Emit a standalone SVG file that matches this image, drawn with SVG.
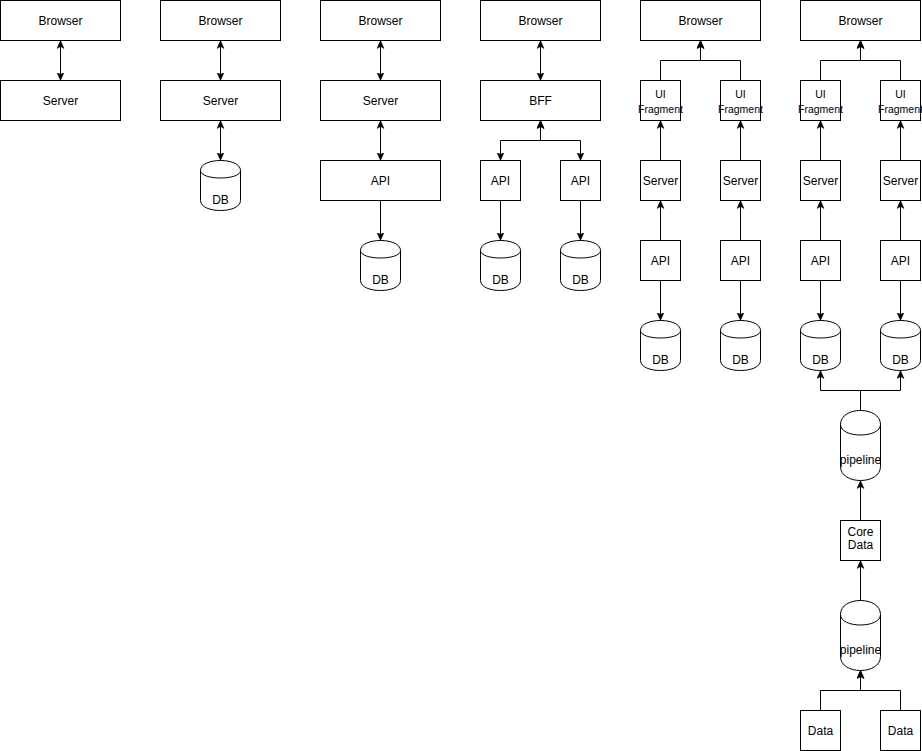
<svg xmlns="http://www.w3.org/2000/svg" width="922" height="751" viewBox="0 0 922 751">
<style>
.box{fill:#fff;stroke:#000;stroke-width:1}
.cyl{fill:#fff;stroke:#000;stroke-width:1}
.lid{fill:none;stroke:#000;stroke-width:1}
.t{font-family:"Liberation Sans",Arial,sans-serif;font-size:12px;fill:#000;text-anchor:middle}
.s{font-size:10.5px}
.e{fill:none;stroke:#000;stroke-width:1}
.a{marker-end:url(#arr)}
.d{marker-start:url(#arr);marker-end:url(#arr)}
</style>
<defs>
<marker id="arr" markerUnits="userSpaceOnUse" viewBox="-8 -4 8 8" refX="0" refY="0" markerWidth="8" markerHeight="8" orient="auto-start-reverse">
<path d="M0,0 L-8,-3.5 L-6,0 L-8,3.5 Z" fill="#000" stroke="#000" stroke-width="0.5"/>
</marker>
</defs>
<rect width="922" height="751" fill="#fff"/>
<g transform="translate(0.5,0.5)">
<g id="connectors">
<path class="e d" d="M60,40 V80"/>
<path class="e d" d="M220,40 V80"/>
<path class="e d" d="M220,120 V160"/>
<path class="e d" d="M380,40 V80"/>
<path class="e d" d="M380,120 V160"/>
<path class="e a" d="M380,200 V240"/>
<path class="e d" d="M540,40 V80"/>
<path class="e d" d="M540,120 V140 H500 V160"/>
<path class="e d" d="M540,120 V140 H580 V160"/>
<path class="e a" d="M500,200 V240"/>
<path class="e a" d="M580,200 V240"/>
<path class="e a" d="M660,80 V60 H700 V40"/>
<path class="e a" d="M740,80 V60 H700 V40"/>
<path class="e a" d="M660,160 V120"/>
<path class="e a" d="M740,160 V120"/>
<path class="e a" d="M660,240 V200"/>
<path class="e a" d="M740,240 V200"/>
<path class="e a" d="M660,280 V320"/>
<path class="e a" d="M740,280 V320"/>
<path class="e a" d="M820,80 V60 H860 V40"/>
<path class="e a" d="M900,80 V60 H860 V40"/>
<path class="e a" d="M820,160 V120"/>
<path class="e a" d="M900,160 V120"/>
<path class="e a" d="M820,240 V200"/>
<path class="e a" d="M900,240 V200"/>
<path class="e a" d="M820,280 V320"/>
<path class="e a" d="M900,280 V320"/>
<path class="e a" d="M860,410 V390 H820 V370"/>
<path class="e a" d="M860,410 V390 H900 V370"/>
<path class="e a" d="M860,520 V480"/>
<path class="e a" d="M860,600 V560"/>
<path class="e a" d="M820,710 V690 H860 V670"/>
<path class="e a" d="M900,710 V690 H860 V670"/>
</g>
<!-- Column 1 -->
<g id="c1-browser"><rect class="box" x="0" y="0" width="120" height="40"/><text class="t" x="60" y="24.5">Browser</text></g>
<g id="c1-server"><rect class="box" x="0" y="80" width="120" height="40"/><text class="t" x="60" y="104.5">Server</text></g>
<!-- Column 2 -->
<g id="c2-browser"><rect class="box" x="160" y="0" width="120" height="40"/><text class="t" x="220" y="24.5">Browser</text></g>
<g id="c2-server"><rect class="box" x="160" y="80" width="120" height="40"/><text class="t" x="220" y="104.5">Server</text></g>
<g id="c2-db"><path class="cyl" d="M200,170 C200,156.67 240,156.67 240,170 L240,200 C240,213.33 200,213.33 200,200 Z"/><path class="lid" d="M200,170 C200,180 240,180 240,170"/><text class="t" x="220" y="203.5">DB</text></g>
<!-- Column 3 -->
<g id="c3-browser"><rect class="box" x="320" y="0" width="120" height="40"/><text class="t" x="380" y="24.5">Browser</text></g>
<g id="c3-server"><rect class="box" x="320" y="80" width="120" height="40"/><text class="t" x="380" y="104.5">Server</text></g>
<g id="c3-api"><rect class="box" x="320" y="160" width="120" height="40"/><text class="t" x="380" y="184.5">API</text></g>
<g id="c3-db"><path class="cyl" d="M360,250 C360,236.67 400,236.67 400,250 L400,280 C400,293.33 360,293.33 360,280 Z"/><path class="lid" d="M360,250 C360,260 400,260 400,250"/><text class="t" x="380" y="283.5">DB</text></g>
<!-- Column 4 -->
<g id="c4-browser"><rect class="box" x="480" y="0" width="120" height="40"/><text class="t" x="540" y="24.5">Browser</text></g>
<g id="c4-bff"><rect class="box" x="480" y="80" width="120" height="40"/><text class="t" x="540" y="104.5">BFF</text></g>
<g id="c4-api1"><rect class="box" x="480" y="160" width="40" height="40"/><text class="t" x="500" y="184.5">API</text></g>
<g id="c4-api2"><rect class="box" x="560" y="160" width="40" height="40"/><text class="t" x="580" y="184.5">API</text></g>
<g id="c4-db1"><path class="cyl" d="M480,250 C480,236.67 520,236.67 520,250 L520,280 C520,293.33 480,293.33 480,280 Z"/><path class="lid" d="M480,250 C480,260 520,260 520,250"/><text class="t" x="500" y="283.5">DB</text></g>
<g id="c4-db2"><path class="cyl" d="M560,250 C560,236.67 600,236.67 600,250 L600,280 C600,293.33 560,293.33 560,280 Z"/><path class="lid" d="M560,250 C560,260 600,260 600,250"/><text class="t" x="580" y="283.5">DB</text></g>
<!-- Column 5 -->
<g id="c5-browser"><rect class="box" x="640" y="0" width="120" height="40"/><text class="t" x="700" y="24.5">Browser</text></g>
<g id="c5-ui1"><rect class="box" x="640" y="80" width="40" height="40"/><text class="t s" x="660" y="97">UI</text><text class="t s" x="660" y="112">Fragment</text></g>
<g id="c5-ui2"><rect class="box" x="720" y="80" width="40" height="40"/><text class="t s" x="740" y="97">UI</text><text class="t s" x="740" y="112">Fragment</text></g>
<g id="c5-server1"><rect class="box" x="640" y="160" width="40" height="40"/><text class="t" x="660" y="184.5">Server</text></g>
<g id="c5-server2"><rect class="box" x="720" y="160" width="40" height="40"/><text class="t" x="740" y="184.5">Server</text></g>
<g id="c5-api1"><rect class="box" x="640" y="240" width="40" height="40"/><text class="t" x="660" y="264.5">API</text></g>
<g id="c5-api2"><rect class="box" x="720" y="240" width="40" height="40"/><text class="t" x="740" y="264.5">API</text></g>
<g id="c5-db1"><path class="cyl" d="M640,330 C640,316.67 680,316.67 680,330 L680,360 C680,373.33 640,373.33 640,360 Z"/><path class="lid" d="M640,330 C640,340 680,340 680,330"/><text class="t" x="660" y="363.5">DB</text></g>
<g id="c5-db2"><path class="cyl" d="M720,330 C720,316.67 760,316.67 760,330 L760,360 C760,373.33 720,373.33 720,360 Z"/><path class="lid" d="M720,330 C720,340 760,340 760,330"/><text class="t" x="740" y="363.5">DB</text></g>
<!-- Column 6 -->
<g id="c6-browser"><rect class="box" x="800" y="0" width="120" height="40"/><text class="t" x="860" y="24.5">Browser</text></g>
<g id="c6-ui1"><rect class="box" x="800" y="80" width="40" height="40"/><text class="t s" x="820" y="97">UI</text><text class="t s" x="820" y="112">Fragment</text></g>
<g id="c6-ui2"><rect class="box" x="880" y="80" width="40" height="40"/><text class="t s" x="900" y="97">UI</text><text class="t s" x="900" y="112">Fragment</text></g>
<g id="c6-server1"><rect class="box" x="800" y="160" width="40" height="40"/><text class="t" x="820" y="184.5">Server</text></g>
<g id="c6-server2"><rect class="box" x="880" y="160" width="40" height="40"/><text class="t" x="900" y="184.5">Server</text></g>
<g id="c6-api1"><rect class="box" x="800" y="240" width="40" height="40"/><text class="t" x="820" y="264.5">API</text></g>
<g id="c6-api2"><rect class="box" x="880" y="240" width="40" height="40"/><text class="t" x="900" y="264.5">API</text></g>
<g id="c6-db1"><path class="cyl" d="M800,330 C800,316.67 840,316.67 840,330 L840,360 C840,373.33 800,373.33 800,360 Z"/><path class="lid" d="M800,330 C800,340 840,340 840,330"/><text class="t" x="820" y="363.5">DB</text></g>
<g id="c6-db2"><path class="cyl" d="M880,330 C880,316.67 920,316.67 920,330 L920,360 C920,373.33 880,373.33 880,360 Z"/><path class="lid" d="M880,330 C880,340 920,340 920,330"/><text class="t" x="900" y="363.5">DB</text></g>
<g id="c6-pipeline1"><path class="cyl" d="M840,424 C840,405.33 880,405.33 880,424 L880,466 C880,484.67 840,484.67 840,466 Z"/><path class="lid" d="M840,424 C840,438 880,438 880,424"/><text class="t" x="860" y="463">pipeline</text></g>
<g id="c6-coredata"><rect class="box" x="840" y="520" width="40" height="40"/><text class="t" x="860" y="535">Core</text><text class="t" x="860" y="548.5">Data</text></g>
<g id="c6-pipeline2"><path class="cyl" d="M840,614 C840,595.33 880,595.33 880,614 L880,656 C880,674.67 840,674.67 840,656 Z"/><path class="lid" d="M840,614 C840,628 880,628 880,614"/><text class="t" x="860" y="653">pipeline</text></g>
<g id="c6-data1"><rect class="box" x="800" y="710" width="40" height="40"/><text class="t" x="820" y="734.5">Data</text></g>
<g id="c6-data2"><rect class="box" x="880" y="710" width="40" height="40"/><text class="t" x="900" y="734.5">Data</text></g>
</g>
</svg>
